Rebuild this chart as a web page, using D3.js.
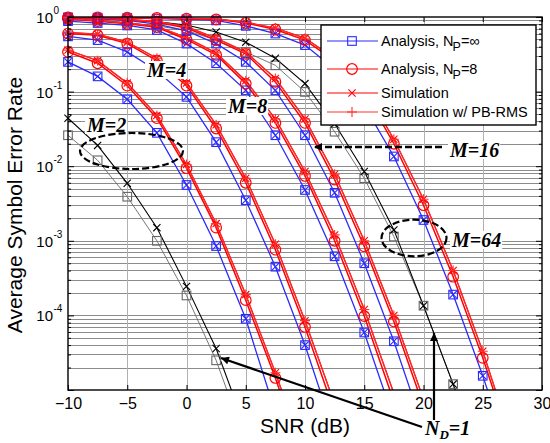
<!DOCTYPE html>
<html>
<head>
<meta charset="utf-8">
<script src="https://cdn.jsdelivr.net/npm/d3@7"></script>
<style>
    body { margin: 0; background: #fff; }
    svg { display: block; font-family: "Liberation Sans", Arial, sans-serif; }
</style>
</head>
<body>
<svg id="chart" width="550" height="443"></svg>
<script>
// SNR points (dB), markers every 2.5 dB
const snr = [-10, -7.5, -5, -2.5, 0, 2.5, 5, 7.5, 10, 12.5, 15, 17.5, 20, 22.5, 25, 27.5];

// N_D = 1 (black)
const m2NdOneAnalysis = [0.026, 0.012, 0.0039, 0.001, 1.85e-4, 2.5e-5, 2e-6];
const m2NdOneSim = [0.044, 0.019, 0.0059, 0.0015, 2.45e-4, 3.6e-5, 3e-6];
const m64NdOneAnalysis = [0.93, 0.9, 0.84, 0.76, 0.66, 0.49, 0.34, 0.225, 0.099, 0.029, 0.0069, 0.00114, 1.35e-4, 1.2e-5, 8e-7];
const m64NdOneSim = [0.97, 0.95, 0.91, 0.86, 0.78, 0.63, 0.46, 0.28, 0.128, 0.037, 0.0085, 0.0014, 1.35e-4, 1.2e-5, 8e-7];

// Analysis N_P = inf (blue)
const m2Blue = [0.25, 0.16, 0.079, 0.028, 0.0056, 8.5e-4, 9e-5, 5e-6];
const m4Blue = [0.55, 0.49, 0.34, 0.19, 0.085, 0.021, 0.0035, 4.5e-4, 4e-5, 2.5e-6];
const m8Blue = [0.88, 0.83, 0.77, 0.67, 0.44, 0.24, 0.104, 0.026, 0.0048, 6.2e-4, 5.9e-5, 4e-6];
const m16Blue = [0.97, 0.95, 0.9, 0.8, 0.65, 0.44, 0.25, 0.104, 0.026, 0.0044, 5e-4, 4.5e-5, 3e-6];
const m64Blue = [0.99, 0.98, 0.97, 0.95, 0.93, 0.9, 0.76, 0.6, 0.42, 0.2, 0.065, 0.0135, 0.0019, 1.9e-4, 1.55e-5, 1e-6];

// Analysis N_P = 8 (red, circles)
const m2Red = [0.34, 0.24, 0.12, 0.044, 0.0094, 0.0015, 1.6e-4, 1.45e-5, 1e-6];
const m4Red = [0.6, 0.57, 0.44, 0.26, 0.12, 0.032, 0.006, 7.6e-4, 7e-5, 5e-6];
const m8Red = [0.94, 0.88, 0.81, 0.73, 0.5, 0.31, 0.128, 0.038, 0.0074, 0.001, 9.8e-5, 7e-6];
const m16Red = [0.98, 0.96, 0.92, 0.85, 0.71, 0.49, 0.32, 0.135, 0.038, 0.0066, 8.4e-4, 8.3e-5, 6e-6];
const m64Red = [0.99, 0.99, 0.98, 0.97, 0.95, 0.93, 0.83, 0.68, 0.49, 0.26, 0.1, 0.02, 0.003, 3.3e-4, 2.7e-5, 1.7e-6];

// Simulation (red, x and +)
const m2RedSim = [0.36, 0.26, 0.13, 0.048, 0.0105, 0.0017, 1.9e-4, 1.7e-5, 1.3e-6];
const m4RedSim = [0.62, 0.59, 0.46, 0.28, 0.13, 0.036, 0.0069, 9e-4, 8.5e-5, 6.5e-6];
const m8RedSim = [0.95, 0.9, 0.83, 0.75, 0.53, 0.33, 0.14, 0.043, 0.0085, 0.0012, 1.2e-4, 9e-6];
const m16RedSim = [0.98, 0.97, 0.93, 0.87, 0.74, 0.52, 0.34, 0.15, 0.043, 0.0078, 0.001, 1e-4, 7.5e-6];
const m64RedSim = [0.99, 0.99, 0.98, 0.97, 0.96, 0.94, 0.85, 0.71, 0.52, 0.28, 0.11, 0.023, 0.0036, 4e-4, 3.3e-5, 2e-6];

const xTicks = [-10, -5, 0, 5, 10, 15, 20, 25, 30];
const yDecades = [0, -1, -2, -3, -4];
const legendLabels = ["Analysis, N", "Analysis, N", "Simulation", "Simulation w/ PB-RMS"];

const blue = "#2a2aff", red = "#ff0000";
const series = [];
[[m2NdOneAnalysis, m2NdOneSim], [m64NdOneAnalysis, m64NdOneSim]].forEach(function(p) {
    series.push({v: p[0], color: "#666", width: 0.9, marker: "square"});
    series.push({v: p[1], color: "#000", width: 1.1, marker: "x"});
});
[[m2Blue, m2Red, m2RedSim], [m4Blue, m4Red, m4RedSim], [m8Blue, m8Red, m8RedSim],
 [m16Blue, m16Red, m16RedSim], [m64Blue, m64Red, m64RedSim]].forEach(function(p) {
    series.push({v: p[0], color: blue, width: 1.3, marker: "square"});
    series.push({v: p[0], color: blue, width: 0, marker: "x"});
    series.push({v: p[1], color: red, width: 1.5, marker: "circle"});
    series.push({v: p[2], color: red, width: 1.4, marker: "x"});
    series.push({v: p[2], color: "#ff3030", width: 1, marker: "plus"});
});

const svg = d3.select("#chart");
const plotLeft = 68, plotRight = 542, plotTop = 17, plotBottom = 390;

const x = d3.scaleLinear().domain([-10, 30]).range([plotLeft, plotRight]);
const y = d3.scaleLog().domain([1e-5, 1]).range([plotBottom, plotTop]);

const minorY = [];
[-5, -4, -3, -2, -1].forEach(function(d) {
    for (let k = 2; k <= 9; k++) minorY.push(k * Math.pow(10, d));
});
const majorY = [1e-5, 1e-4, 1e-3, 1e-2, 1e-1, 1];

// grid
const grid = svg.append("g").attr("shape-rendering", "crispEdges");
grid.selectAll(".hgrid")
    .data(minorY.concat(majorY.slice(1, 5)))
    .enter().append("line")
    .attr("x1", plotLeft).attr("x2", plotRight)
    .attr("y1", d => Math.round(y(d)) + 0.5).attr("y2", d => Math.round(y(d)) + 0.5)
    .attr("stroke", "#8c8c8c").attr("stroke-width", 1);
grid.selectAll(".vgrid")
    .data(xTicks.slice(1, -1))
    .enter().append("line")
    .attr("y1", plotTop).attr("y2", plotBottom)
    .attr("x1", d => Math.round(x(d)) + 0.5).attr("x2", d => Math.round(x(d)) + 0.5)
    .attr("stroke", "#b0b0b0").attr("stroke-width", 1);

// curves
svg.append("clipPath").attr("id", "plotClip")
    .append("rect").attr("x", plotLeft).attr("y", plotTop)
    .attr("width", plotRight - plotLeft).attr("height", plotBottom - plotTop);

const line = d3.line().x(d => x(d[0])).y(d => y(d[1]));
const curves = svg.append("g").attr("clip-path", "url(#plotClip)");
const marks = svg.append("g");

function drawMarker(g, type, cx, cy, color) {
    if (type === "square") {
        g.append("rect").attr("x", cx - 4.3).attr("y", cy - 4.3).attr("width", 8.6).attr("height", 8.6)
          .attr("fill", "none").attr("stroke", color).attr("stroke-width", 1.1);
    } else if (type === "circle") {
        g.append("circle").attr("cx", cx).attr("cy", cy).attr("r", 5.3)
          .attr("fill", "none").attr("stroke", color).attr("stroke-width", 1.2);
    } else if (type === "x") {
        g.append("path").attr("d", `M${cx - 3.6},${cy - 3.6}L${cx + 3.6},${cy + 3.6}M${cx - 3.6},${cy + 3.6}L${cx + 3.6},${cy - 3.6}`)
          .attr("stroke", color).attr("stroke-width", 1.1);
    } else {
        g.append("path").attr("d", `M${cx - 5},${cy}L${cx + 5},${cy}M${cx},${cy - 5}L${cx},${cy + 5}`)
          .attr("stroke", color).attr("stroke-width", 1.1);
    }
}

series.forEach(function(s) {
    const pts = s.v.map((v, i) => [snr[i], v]);
    if (s.width > 0) {
        curves.append("path").datum(pts)
          .attr("d", line).attr("fill", "none")
          .attr("stroke", s.color).attr("stroke-width", s.width);
    }
    pts.filter(p => p[1] >= 1e-5).forEach(function(p) {
        drawMarker(marks, s.marker, x(p[0]), y(p[1]), s.color);
    });
});

// axes, ticks inside on all sides
function styleAxis(g) {
    g.select(".domain").remove();
    g.selectAll("line").attr("stroke", "#000").attr("stroke-width", 1);
}
svg.append("g").attr("transform", `translate(0,${plotBottom})`)
    .call(d3.axisBottom(x).tickValues(xTicks).tickSize(-5).tickPadding(8).tickFormat(d3.format("d")))
    .call(styleAxis)
    .selectAll("text").attr("font-size", 16).attr("font-family", "Liberation Sans, Arial").attr("fill", "#000");
svg.append("g").attr("transform", `translate(0,${plotTop})`)
    .call(d3.axisTop(x).tickValues(xTicks).tickSize(-5).tickFormat(""))
    .call(styleAxis);
[[plotLeft, d3.axisLeft], [plotRight, d3.axisRight]].forEach(function(a) {
    svg.append("g").attr("transform", `translate(${a[0]},0)`)
      .call(a[1](y).tickValues(majorY).tickSize(-6).tickFormat(""))
      .call(styleAxis);
    svg.append("g").attr("transform", `translate(${a[0]},0)`)
      .call(a[1](y).tickValues(minorY).tickSize(-3).tickFormat(""))
      .call(styleAxis);
});
svg.append("rect").attr("x", plotLeft).attr("y", plotTop)
    .attr("width", plotRight - plotLeft).attr("height", plotBottom - plotTop)
    .attr("fill", "none").attr("stroke", "#000").attr("stroke-width", 1.4);

yDecades.forEach(function(e) {
    const yy = y(Math.pow(10, e));
    svg.append("text").attr("x", 53).attr("y", yy + 6)
      .attr("text-anchor", "end").attr("font-size", 15).text("10");
    svg.append("text").attr("x", 53.5).attr("y", yy - 3)
      .attr("font-size", 10).text(e === 0 ? "0" : "-" + (-e));
});

svg.append("text").attr("x", 305).attr("y", 433)
    .attr("text-anchor", "middle").attr("font-size", 21).text("SNR (dB)");
svg.append("text").attr("transform", "translate(22,205) rotate(-90)")
    .attr("text-anchor", "middle").attr("font-size", 21).text("Average Symbol Error Rate");

// legend
const legend = svg.append("g").attr("transform", "translate(321,25)");
legend.append("rect").attr("width", 215).attr("height", 100)
    .attr("fill", "#fff").attr("stroke", "#000").attr("stroke-width", 1.4);
const legendRows = [
    {dy: 16, color: blue, marker: "square"},
    {dy: 44, color: red, marker: "circle"},
    {dy: 68, color: red, marker: "x"},
    {dy: 87, color: "#ff3030", marker: "plus"}
];
legendRows.forEach(function(r, i) {
    legend.append("line").attr("x1", 6).attr("x2", 57).attr("y1", r.dy).attr("y2", r.dy)
      .attr("stroke", r.color).attr("stroke-width", 1.2);
    drawMarker(legend, r.marker, 31, r.dy, r.color);
    const t = legend.append("text").attr("x", 60).attr("y", r.dy + 5).attr("font-size", 14.5).text(legendLabels[i]);
    if (i < 2) {
        t.append("tspan").attr("dx", -1).attr("dy", 5).attr("font-size", 12.5).text("P");
        t.append("tspan").attr("dy", -5).text(i === 0 ? "=\u221e" : "=8");
    }
});

// annotations
const serif = "Liberation Serif, Times New Roman, serif";
function label(lx, ly, txt) {
    const t = svg.append("text").attr("x", lx).attr("y", ly)
      .attr("font-family", serif).attr("font-size", 20)
      .attr("font-weight", "bold").attr("font-style", "italic").text(txt);
    const b = t.node().getBBox();
    svg.insert("rect", function() { return t.node(); })
      .attr("x", b.x - 1).attr("y", b.y + 2).attr("width", b.width + 2).attr("height", b.height - 4)
      .attr("fill", "#fff");
    return t;
}
label(147, 77, "M=4");
label(87, 132, "M=2");
label(228, 113, "M=8");
label(450, 157, "M=16");
label(452, 247, "M=64");

const defs = svg.append("defs");
defs.append("marker").attr("id", "arrow").attr("viewBox", "0 0 10 10")
    .attr("refX", 10).attr("refY", 5).attr("markerUnits", "userSpaceOnUse")
    .attr("markerWidth", 10).attr("markerHeight", 8).attr("orient", "auto")
    .append("path").attr("d", "M0,0L10,5L0,10z").attr("fill", "#000");

svg.append("line").attr("x1", 442).attr("y1", 147).attr("x2", 314).attr("y2", 147)
    .attr("stroke", "#000").attr("stroke-width", 2.5).attr("stroke-dasharray", "7,3")
    .attr("marker-end", "url(#arrow)");
svg.append("ellipse").attr("cx", 131.5).attr("cy", 151).attr("rx", 51.5).attr("ry", 18)
    .attr("fill", "none").attr("stroke", "#000").attr("stroke-width", 2.2).attr("stroke-dasharray", "7,3");
svg.append("ellipse").attr("cx", 414).attr("cy", 238).attr("rx", 32.5).attr("ry", 18.3)
    .attr("fill", "none").attr("stroke", "#000").attr("stroke-width", 2.2).attr("stroke-dasharray", "7,3");

svg.append("line").attr("x1", 422).attr("y1", 427).attr("x2", 221).attr("y2", 358)
    .attr("stroke", "#000").attr("stroke-width", 2.2).attr("marker-end", "url(#arrow)");
svg.append("line").attr("x1", 434).attr("y1", 420).attr("x2", 434).attr("y2", 333)
    .attr("stroke", "#000").attr("stroke-width", 2.2).attr("marker-end", "url(#arrow)");

const nd = svg.append("text").attr("x", 425).attr("y", 435)
    .attr("font-family", serif).attr("font-size", 20)
    .attr("font-weight", "bold").attr("font-style", "italic").text("N");
nd.append("tspan").attr("dy", 4).attr("font-size", 13).text("D");
nd.append("tspan").attr("dy", -4).text("=1");
</script>
</body>
</html>
